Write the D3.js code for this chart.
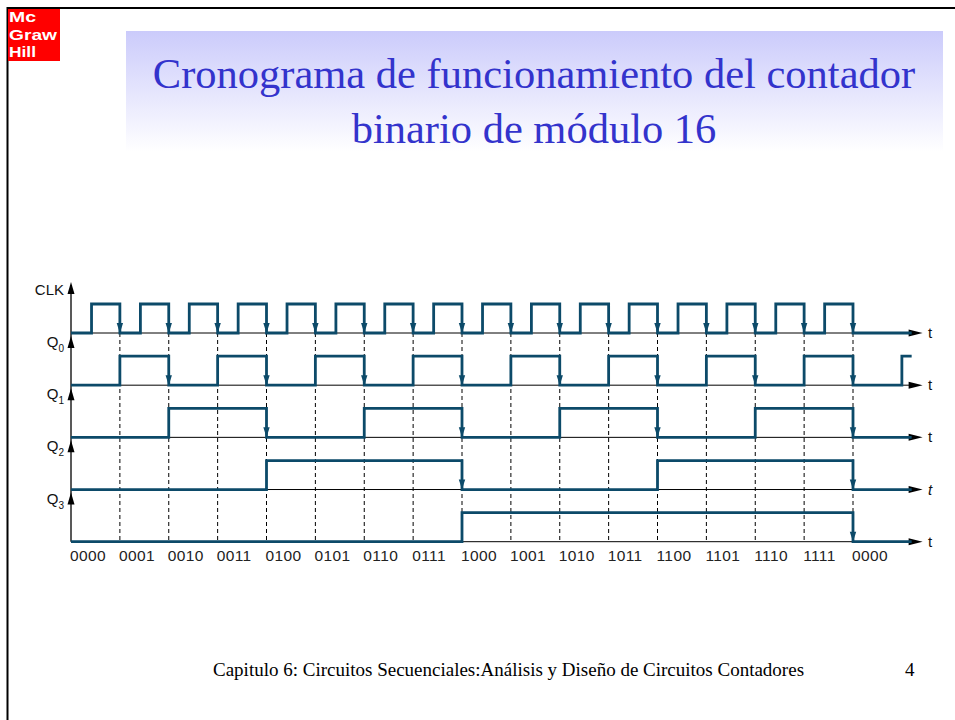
<!DOCTYPE html>
<html>
<head>
<meta charset="utf-8">
<script src="https://cdn.jsdelivr.net/npm/d3@7"></script>
<style>
  body { margin: 0; background: #fff; }
  svg { display: block; }
</style>
</head>
<body>
<div id="chart"></div>
<script>
// timing diagram of a mod-16 ripple counter
var W = 955, H = 720;

var signals = ["CLK", "Q0", "Q1", "Q2", "Q3"];
// times where each signal toggles, in clock periods (falling clock edge k at t = k)
var clkToggles = [0.42, 1, 1.42, 2, 2.42, 3, 3.42, 4, 4.42, 5, 5.42, 6, 6.42, 7, 7.42, 8,
                  8.42, 9, 9.42, 10, 10.42, 11, 11.42, 12, 12.42, 13, 13.42, 14, 14.42, 15, 15.42, 16];
var q0Toggles = [1, 2, 3, 4, 5, 6, 7, 8, 9, 10, 11, 12, 13, 14, 15, 16, 17];
var q1Toggles = [2, 4, 6, 8, 10, 12, 14, 16];
var q2Toggles = [4, 8, 12, 16];
var q3Toggles = [8, 16];
var counts = ["0000", "0001", "0010", "0011", "0100", "0101", "0110", "0111",
              "1000", "1001", "1010", "1011", "1100", "1101", "1110", "1111", "0000"];
var clockEdges = [1, 2, 3, 4, 5, 6, 7, 8, 9, 10, 11, 12, 13, 14, 15, 16]; // dashed lines
var tEnd = 17.2;
var italicT = [false, false, false, true, false]; // the Q2 row has an italic t

var toggles = [clkToggles, q0Toggles, q1Toggles, q2Toggles, q3Toggles];
var teal = "#0c4a69";
var high = 29; // height of a logic 1

var svg = d3.select("#chart").append("svg")
    .attr("width", W).attr("height", H);

// gradient behind the title
var defs = svg.append("defs");
var grad = defs.append("linearGradient").attr("id", "tg")
    .attr("x1", 0).attr("y1", 0).attr("x2", 0).attr("y2", 1);
grad.append("stop").attr("offset", "0%").attr("stop-color", "#cbcbfb");
grad.append("stop").attr("offset", "100%").attr("stop-color", "#ffffff");

svg.append("rect").attr("x", 126).attr("y", 31).attr("width", 817).attr("height", 121)
    .attr("fill", "url(#tg)");

// slide frame
svg.append("line").attr("x1", 7).attr("x2", W).attr("y1", 8).attr("y2", 8)
    .attr("stroke", "#000").attr("stroke-width", 2);
svg.append("line").attr("x1", 7.5).attr("x2", 7.5).attr("y1", 7).attr("y2", H)
    .attr("stroke", "#000").attr("stroke-width", 2);

// logo
svg.append("rect").attr("x", 8).attr("y", 9).attr("width", 52).attr("height", 52).attr("fill", "#ff0000");
var logo = svg.append("g")
    .attr("font-family", "'Liberation Sans Narrow', 'Arial Narrow', 'Liberation Sans', sans-serif")
    .attr("font-weight", "bold").attr("font-size", 15).attr("fill", "#fff");
logo.append("text").attr("x", 9).attr("y", 22).attr("textLength", 27)
    .attr("lengthAdjust", "spacingAndGlyphs").text("Mc");
logo.append("text").attr("x", 9).attr("y", 39.5).attr("textLength", 48)
    .attr("lengthAdjust", "spacingAndGlyphs").text("Graw");
logo.append("text").attr("x", 9).attr("y", 57).attr("textLength", 27)
    .attr("lengthAdjust", "spacingAndGlyphs").text("Hill");

// title
var title = svg.append("g")
    .attr("font-family", "'Liberation Serif', 'Times New Roman', serif")
    .attr("font-size", 42.5).attr("fill", "#3333cc").attr("text-anchor", "middle");
title.append("text").attr("x", 534).attr("y", 88).text("Cronograma de funcionamiento del contador");
title.append("text").attr("x", 534).attr("y", 143).text("binario de módulo 16");

// scales
var x = d3.scaleLinear().domain([0, 16]).range([71, 853]);
var y = d3.scalePoint().domain(signals).range([333, 541.7]);

var plot = svg.append("g");

// dashed lines at each falling clock edge
plot.selectAll(".dash").data(clockEdges).enter().append("line")
    .attr("x1", d => x(d)).attr("x2", d => x(d))
    .attr("y1", y("CLK")).attr("y2", y("Q3"))
    .attr("stroke", "#000").attr("stroke-width", 1).attr("stroke-dasharray", "4,3");

// thin time axes with arrow heads
signals.forEach(function (s) {
    var by = y(s);
    plot.append("line").attr("x1", x(0)).attr("x2", x(tEnd)).attr("y1", by).attr("y2", by)
        .attr("stroke", "#000").attr("stroke-width", 1);
    plot.append("path")
        .attr("d", "M" + (x(tEnd) - 3) + "," + (by - 3.5) + "L" + (x(tEnd) + 11) + "," + by +
              "L" + (x(tEnd) - 3) + "," + (by + 3.5) + "Z")
        .attr("fill", "#000");
});

// vertical axis with one arrow per row
plot.append("line").attr("x1", x(0)).attr("x2", x(0))
    .attr("y1", y("CLK") - 48).attr("y2", y("Q3"))
    .attr("stroke", "#222").attr("stroke-width", 1.5);
signals.forEach(function (s, i) {
    var tip = i === 0 ? y(s) - 51 : y(signals[i - 1]) + 3;
    plot.append("path")
        .attr("d", "M" + x(0) + "," + tip + "L" + (x(0) + 3.5) + "," + (tip + 12) +
              "L" + (x(0) - 3.5) + "," + (tip + 12) + "Z")
        .attr("fill", "#000");
});

// build the step waveform of each signal
signals.forEach(function (s, i) {
    var by = y(s);
    var level = 0;
    var pts = [[x(0), by]];
    toggles[i].forEach(function (t) {
        pts.push([x(t), by - level * high]);
        level = 1 - level;
        pts.push([x(t), by - level * high]);
    });
    pts.push([x(tEnd), by - level * high]);
    plot.append("path")
        .attr("d", d3.line()(pts))
        .attr("fill", "none").attr("stroke", teal)
        .attr("stroke-width", 2.8).attr("stroke-linejoin", "miter");

    // arrows on falling edges
    var falls = toggles[i].filter((t, k) => k % 2 === 1 && t <= 16);
    plot.selectAll(".fall" + i).data(falls).enter().append("path")
        .attr("d", d => "M" + (x(d) - 3.2) + "," + (by - 10) + "L" + (x(d) + 3.2) + "," + (by - 10) +
              "L" + x(d) + "," + by + "Z")
        .attr("fill", teal);
});

// signal names
var lab = svg.append("g")
    .attr("font-family", "'Liberation Sans', Arial, sans-serif")
    .attr("fill", "#111").attr("text-anchor", "end");
signals.forEach(function (s, i) {
    var base = i === 0 ? y(s) - 38 : y(signals[i - 1]) + 14;
    var t = lab.append("text").attr("x", 64).attr("y", base).attr("font-size", 15);
    if (s === "CLK") {
        t.text("CLK");
    } else {
        t.append("tspan").text("Q");
        t.append("tspan").attr("font-size", 10).attr("dy", 5).text(s.slice(1));
    }
});

// "t" at the end of each time axis
signals.forEach(function (s, i) {
    svg.append("text").attr("x", 928).attr("y", y(s) + 5)
        .attr("font-family", "'Liberation Sans', Arial, sans-serif")
        .attr("font-size", 15).attr("fill", "#111")
        .attr("font-style", italicT[i] ? "italic" : "normal")
        .text("t");
});

// count values under the diagram
svg.append("g").selectAll("text").data(counts).enter().append("text")
    .attr("x", (d, i) => x(i) - 1).attr("y", 561)
    .attr("font-family", "'Liberation Sans', Arial, sans-serif")
    .attr("font-size", 15.5).attr("fill", "#222").attr("letter-spacing", 0.4)
    .text(d => d);

// footer
var foot = svg.append("g")
    .attr("font-family", "'Liberation Serif', 'Times New Roman', serif")
    .attr("font-size", 19).attr("fill", "#000");
foot.append("text").attr("x", 213).attr("y", 676)
    .text("Capitulo 6: Circuitos Secuenciales:Análisis y Diseño de Circuitos Contadores");
foot.append("text").attr("x", 905).attr("y", 676).text("4");
</script>
</body>
</html>
